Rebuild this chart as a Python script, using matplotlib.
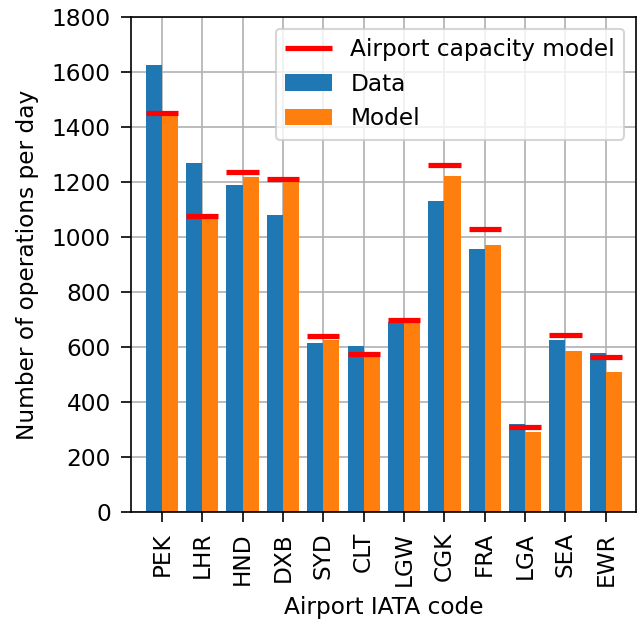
import numpy as np
import matplotlib
matplotlib.use("Agg")
import matplotlib.pyplot as plt

plt.rcParams["font.size"] = 11.2
plt.rcParams["xtick.major.size"] = 4.8
plt.rcParams["ytick.major.size"] = 4.8
plt.rcParams["xtick.major.pad"] = 4.8
plt.rcParams["ytick.major.pad"] = 4.8

# airports and daily operations
airports = ["PEK", "LHR", "HND", "DXB", "SYD", "CLT", "LGW", "CGK", "FRA", "LGA", "SEA", "EWR"]
data_ops = [1625, 1270, 1190, 1080, 615, 605, 690, 1130, 955, 320, 625, 580]
model_ops = [1440, 1070, 1220, 1200, 625, 570, 690, 1222, 970, 290, 585, 510]
capacity_ops = [1450, 1075, 1235, 1210, 640, 575, 700, 1262, 1030, 308, 645, 565]

x = np.arange(len(airports))
w = 0.4

fig = plt.figure(figsize=(638 / 150, 621 / 150), dpi=150)
ax = fig.add_axes([0.205, 0.1755, 0.792, 0.797])

ax.bar(x - w / 2, data_ops, w, color="tab:blue", label="Data")
ax.bar(x + w / 2, model_ops, w, color="tab:orange", label="Model")
ax.hlines(capacity_ops, x - w, x + w, colors="red", linewidth=2.5,
          label="Airport capacity model", zorder=3)

ax.set_xticks(x)
ax.set_xticklabels(airports, rotation=90)
ax.set_xlim(-0.77, 11.75)
ax.set_ylim(0, 1800)
ax.set_yticks(np.arange(0, 1801, 200))
ax.grid(True, color="#b0b0b0")
ax.set_axisbelow(True)
ax.set_xlabel("Airport IATA code", labelpad=5)
ax.set_ylabel("Number of operations per day", labelpad=6)
ax.legend(loc="upper right")

fig.savefig("out.png", dpi=150)
